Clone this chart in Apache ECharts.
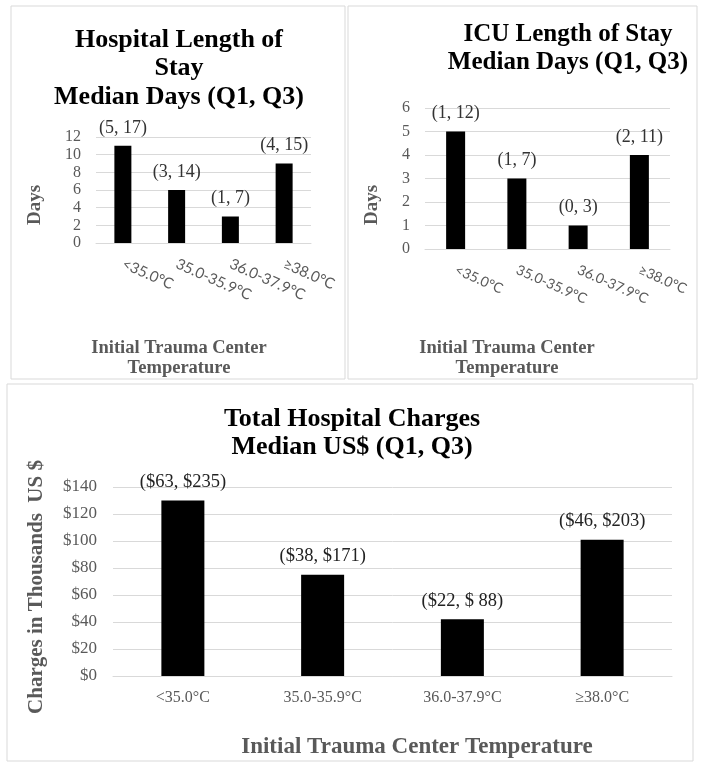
<!DOCTYPE html>
<html>
<head>
<meta charset="utf-8">
<script src="https://cdn.jsdelivr.net/npm/echarts@6/dist/echarts.min.js"></script>
<style>html,body{margin:0;padding:0;background:#fff}#c{width:704px;height:769px}</style>
</head>
<body>
<div id="c"></div>
<script>
const categories = ['<35.0°C', '35.0-35.9°C', '36.0-37.9°C', '≥38.0°C'];
const hospLosMedian = [11, 6, 3, 9];
const hospLosQ1 = [5, 3, 1, 4];
const hospLosQ3 = [17, 14, 7, 15];
const icuLosMedian = [5, 3, 1, 4];
const icuLosQ1 = [1, 1, 0, 2];
const icuLosQ3 = [12, 7, 3, 11];
const chargesMedian = [130, 75, 42, 101];
const chargesQ1 = [63, 38, 22, 46];
const chargesQ3 = [235, 171, 88, 203];

const SERIF = '"Liberation Serif", "Times New Roman", serif';
const SANS = 'Lato, "Liberation Sans", sans-serif';
const GRAY = '#595959';
const GRID = '#d9d9d9';

function catAxis(gi, rotate, size, margin, family) {
  return {
    type: 'category', gridIndex: gi, data: categories,
    axisLine: {lineStyle: {color: GRID}}, axisTick: {show: false},
    axisLabel: {rotate: rotate, color: GRAY, fontSize: size, fontFamily: family, margin: margin, interval: 0}
  };
}
function valAxis(gi, max, interval, size, margin, fmt) {
  return {
    type: 'value', gridIndex: gi, min: 0, max: max, interval: interval,
    axisLine: {show: false}, axisTick: {show: false},
    splitLine: {lineStyle: {color: GRID}},
    axisLabel: {color: GRAY, fontSize: size, fontFamily: SERIF, margin: margin, formatter: fmt}
  };
}
function barSeries(gi, data, width, fmt, size, color) {
  return {
    type: 'bar', xAxisIndex: gi, yAxisIndex: gi, data: data, barWidth: width,
    itemStyle: {color: '#000'},
    label: {show: true, position: 'top', distance: 9, color: color, fontSize: size, fontFamily: SERIF, formatter: fmt}
  };
}
function txt(x, y, text, size, color, rot, lh) {
  return {
    type: 'text', x: x, y: y, rotation: rot || 0,
    style: {text: text, fill: color, fontSize: size, fontFamily: SERIF, fontWeight: 'bold',
      align: 'center', verticalAlign: 'middle', textAlign: 'center', textVerticalAlign: 'middle', lineHeight: lh || size}
  };
}

const chart = echarts.init(document.getElementById('c'), null, {renderer: 'canvas'});
chart.setOption({
  backgroundColor: '#fff',
  animation: false,
  title: [
    {text: 'Hospital Length of\nStay\nMedian Days (Q1, Q3)', left: 179, top: 26, textAlign: 'center', padding: 0,
      textStyle: {fontFamily: SERIF, fontWeight: 'bold', fontSize: 26, lineHeight: 28.5, color: '#000'}},
    {text: 'ICU Length of Stay\nMedian Days (Q1, Q3)', left: 568, top: 21, textAlign: 'center', padding: 0,
      textStyle: {fontFamily: SERIF, fontWeight: 'bold', fontSize: 25, lineHeight: 28, color: '#000'}},
    {text: 'Total Hospital Charges\nMedian US$ (Q1, Q3)', left: 352, top: 405, textAlign: 'center', padding: 0,
      textStyle: {fontFamily: SERIF, fontWeight: 'bold', fontSize: 26, lineHeight: 28, color: '#000'}}
  ],
  grid: [
    {left: 96, top: 137, width: 215, height: 106},
    {left: 425, top: 108, width: 245, height: 141},
    {left: 113, top: 487, width: 559, height: 189}
  ],
  xAxis: [
    catAxis(0, -24, 15, 20, SANS),
    catAxis(1, -24, 14, 20, SANS),
    catAxis(2, 0, 16, 14, SERIF)
  ],
  yAxis: [
    valAxis(0, 12, 2, 16, 15, null),
    valAxis(1, 6, 1, 16, 15, null),
    valAxis(2, 140, 20, 17, 16, v => '$' + v)
  ],
  series: [
    barSeries(0, hospLosMedian, 17, p => '(' + hospLosQ1[p.dataIndex] + ', ' + hospLosQ3[p.dataIndex] + ')', 18, '#333'),
    barSeries(1, icuLosMedian, 19, p => '(' + icuLosQ1[p.dataIndex] + ', ' + icuLosQ3[p.dataIndex] + ')', 18, '#333'),
    barSeries(2, chargesMedian, 43, p => {
      const q3 = chargesQ3[p.dataIndex];
      return '($' + chargesQ1[p.dataIndex] + ', $' + (q3 < 100 ? ' ' : '') + q3 + ')';
    }, 18.5, '#222')
  ],
  graphic: [
    {type: 'rect', shape: {x: 11, y: 6, width: 334, height: 373}, style: {fill: 'none', stroke: GRID, lineWidth: 1}, silent: true},
    {type: 'rect', shape: {x: 348, y: 6, width: 349, height: 373}, style: {fill: 'none', stroke: GRID, lineWidth: 1}, silent: true},
    {type: 'rect', shape: {x: 7, y: 384, width: 686, height: 377}, style: {fill: 'none', stroke: GRID, lineWidth: 1}, silent: true},
    txt(35, 205, 'Days', 19, GRAY, Math.PI / 2),
    txt(372, 205, 'Days', 19, GRAY, Math.PI / 2),
    txt(37, 587, 'Charges in Thousands  US $', 21, GRAY, Math.PI / 2),
    txt(179, 358, 'Initial Trauma Center\nTemperature', 18.5, GRAY, 0, 20),
    txt(507, 358, 'Initial Trauma Center\nTemperature', 18.5, GRAY, 0, 20),
    txt(417, 747, 'Initial Trauma Center Temperature', 23, GRAY, 0)
  ]
});
</script>
</body>
</html>
